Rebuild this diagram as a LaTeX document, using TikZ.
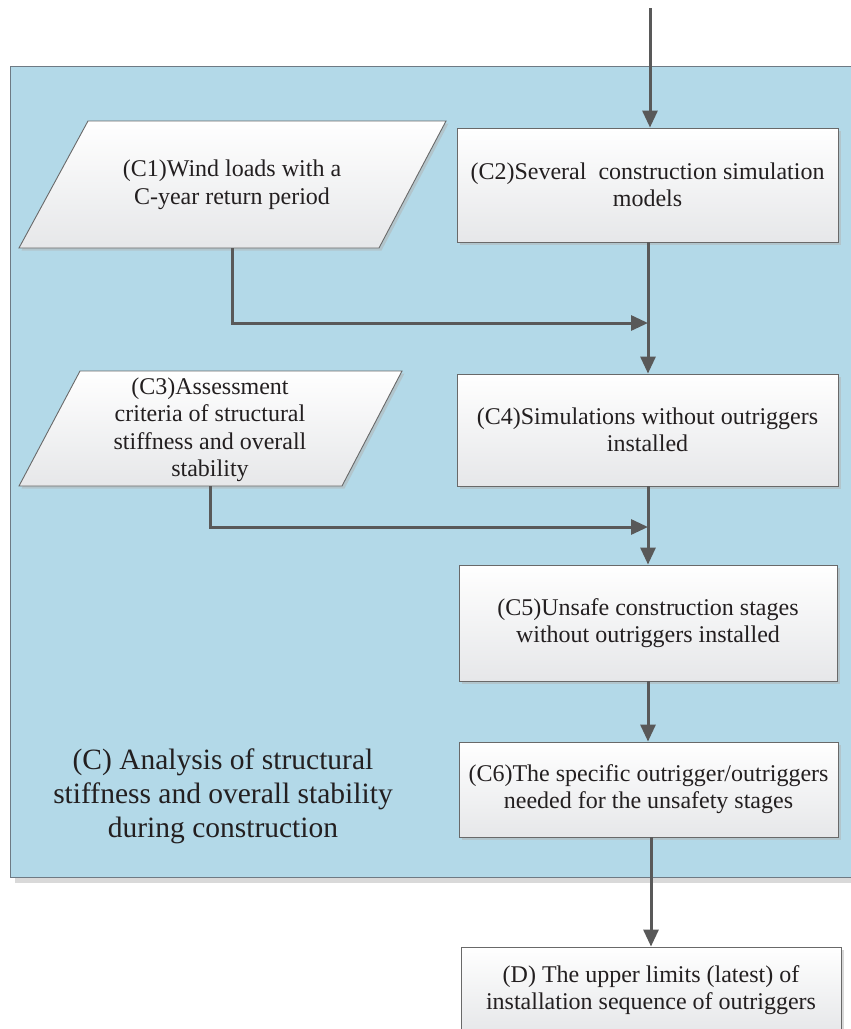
\documentclass[tikz,border=0pt]{standalone}
\usepackage{fontspec}
\setmainfont{Liberation Serif}
\usetikzlibrary{arrows.meta,shadows}
\definecolor{panelblue}{RGB}{179,217,232}
\definecolor{panelline}{RGB}{110,122,132}
\definecolor{boxline}{RGB}{105,105,105}
\definecolor{boxbot}{RGB}{230,231,233}
\definecolor{arrowgray}{RGB}{89,89,89}
\definecolor{txt}{RGB}{35,31,32}
\tikzset{
  procbox/.style={draw=boxline, line width=0.9pt, top color=white, bottom color=boxbot,
    drop shadow={shadow xshift=2.5pt, shadow yshift=-2.5pt, fill=black!30, opacity=0.5},
    align=center, font=\fontsize{24}{27}\selectfont, text=txt, inner sep=0pt},
  paratext/.style={align=center, font=\fontsize{24}{27.5}\selectfont, text=txt, inner sep=0pt},
  para/.style={draw=boxline, line width=0.9pt, top color=white, bottom color=boxbot},
  flow/.style={draw=arrowgray, line width=3pt, -{Triangle[length=17pt,width=15pt]}},
  flowline/.style={draw=arrowgray, line width=3pt}
}
\begin{document}
\begin{tikzpicture}[x=1pt,y=1pt]
\clip (0,0) rectangle (851,-1029);
\useasboundingbox (0,0) rectangle (851,-1029);
% panel
\fill[black!15] (15,-72) rectangle (866,-883);
\path[fill=panelblue, draw=panelline, line width=1pt] (10,-66) rectangle (862,-877);
\node[align=center, font=\fontsize{29.5}{34}\selectfont, text=txt] (Clabel) at (223,-796)
  {(C) Analysis of structural\\stiffness and overall stability\\during construction};
% parallelograms
\path[para, drop shadow={shadow xshift=2.5pt, shadow yshift=-2.5pt, fill=black!30, opacity=0.5}]
  (19,-248) -- (88,-121) -- (446,-121) -- (379,-248) -- cycle;
\node[paratext] (C1) at (232,-185) {(C1)Wind loads with a\\C-year return period};
\coordinate (C1b) at (232,-248);
\path[para, drop shadow={shadow xshift=2.5pt, shadow yshift=-2.5pt, fill=black!30, opacity=0.5}]
  (19,-486) -- (80,-371) -- (402,-371) -- (342,-486) -- cycle;
\node[paratext] (C3) at (210,-430) {(C3)Assessment\\criteria of structural\\stiffness and overall\\stability};
\coordinate (C3b) at (210,-486);
% boxes
\node[procbox, minimum width=381pt, minimum height=114pt] (C2) at (647.5,-185)
  {(C2)Several\ \ construction simulation\\models};
\node[procbox, minimum width=381pt, minimum height=112pt] (C4) at (647.5,-430)
  {(C4)Simulations without outriggers\\installed};
\node[procbox, minimum width=378pt, minimum height=116pt] (C5) at (648,-623)
  {(C5)Unsafe construction stages\\without outriggers installed};
\node[procbox, minimum width=379pt, minimum height=95pt] (C6) at (648.5,-789.5)
  {(C6)The specific outrigger/outriggers\\needed for the unsafety stages};
\node[procbox, minimum width=380pt, minimum height=86pt] (D) at (651,-990)
  {(D) The upper limits (latest) of\\installation sequence of outriggers};
% connectors
\coordinate (top) at (650,-8);
\coordinate (j1) at (648,-323);
\coordinate (j2) at (648,-527);
\draw[flow] (top) -- (top |- C2.north);
\draw[flow] (C2.south -| j1) -- (j1 |- C4.north);
\draw[flow] (C1b) |- (j1);
\draw[flow] (C4.south -| j2) -- (j2 |- C5.north);
\draw[flow] (C3b) |- (j2);
\draw[flow] (C5.south -| j2) -- (j2 |- C6.north);
\draw[flow] (C6.south -| D.north) -- (D.north);
\end{tikzpicture}
\end{document}
